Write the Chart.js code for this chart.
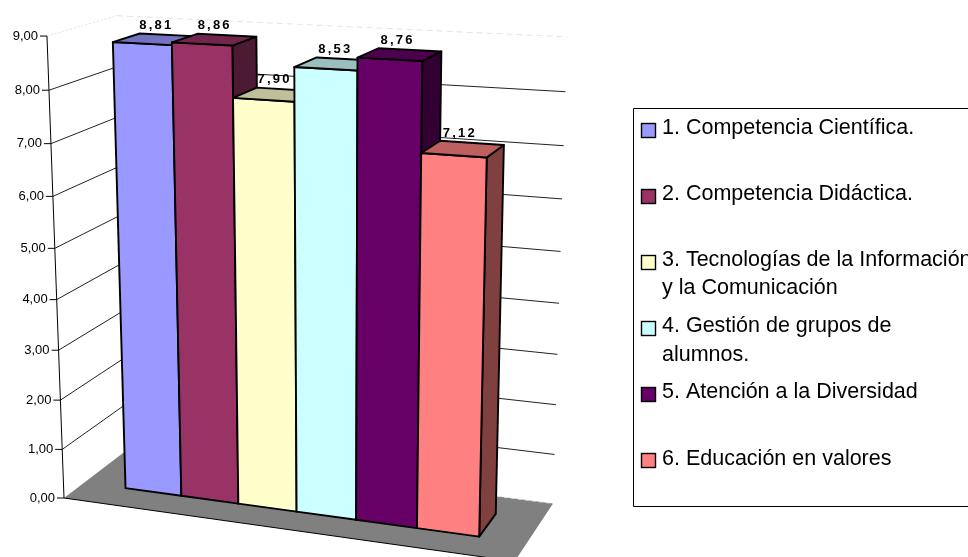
<!DOCTYPE html>
<html>
<head>
<meta charset="utf-8">
<title>Competencias</title>
<script src="https://cdn.jsdelivr.net/npm/chart.js@4"></script>
<style>
  html,body{margin:0;padding:0;background:#fff;overflow:hidden}
  canvas{display:block}
</style>
</head>
<body>
<canvas id="chart_3d" width="968" height="557"></canvas>
<script>
const categories = [
  ['1. Competencia Científica.'],
  ['2. Competencia Didáctica.'],
  ['3. Tecnologías de la Información', 'y la Comunicación'],
  ['4. Gestión de grupos de', 'alumnos.'],
  ['5. Atención a la Diversidad'],
  ['6. Educación en valores']
]
const values = [8.81, 8.86, 7.90, 8.53, 8.76, 7.12]
const valueLabels = ['8,81', '8,86', '7,90', '8,53', '8,76', '7,12']
const tickLabels = ['0,00', '1,00', '2,00', '3,00', '4,00', '5,00', '6,00', '7,00', '8,00', '9,00']

// front / top / side colours of each bar
const frontColors = ['#9999ff', '#993366', '#ffffcc', '#ccffff', '#660066', '#ff8080']
const topColors = ['#7373bf', '#73264d', '#bfbf99', '#99bfbf', '#4d004d', '#bf6060']
const sideColors = ['#4d4d80', '#4d1a33', '#808066', '#668080', '#330033', '#804040']

// legend layout : top of marker and text baselines of every entry
const legendMarkerY = [123, 189, 255, 321, 387, 453]
const legendTextY = [[134], [200], [266, 294], [332, 361], [398], [465]]

// camera of the Excel style 3D box. u: along categories, d: depth, h: height (all 0..1)
function project(u, d, h){
  const w = 1 - 0.08 * u + 0.07 * d - 0.0592 * h
  return {
    x: (409.5 * u + 74 * d + 64 - 19.8 * h) / w,
    y: (18.5 * u - 18 * d + 498 - 464.1 * h) / w
  }
}

function poly(ctx, pts, fill, stroke, lineWidth){
  ctx.beginPath()
  pts.forEach((p, i) => i ? ctx.lineTo(p.x, p.y) : ctx.moveTo(p.x, p.y))
  ctx.closePath()
  if(fill){
    ctx.fillStyle = fill
    ctx.fill()
  }
  if(stroke){
    ctx.strokeStyle = stroke
    ctx.lineWidth = lineWidth
    ctx.stroke()
  }
}

function line(ctx, a, b, color, lineWidth, dash){
  ctx.save()
  ctx.beginPath()
  ctx.setLineDash(dash || [])
  ctx.moveTo(a.x, a.y)
  ctx.lineTo(b.x, b.y)
  ctx.strokeStyle = color
  ctx.lineWidth = lineWidth
  ctx.stroke()
  ctx.restore()
}

// the box behind the bars, drawn from the y scale
const boxPlugin = {
  id: 'box3d',
  beforeDatasetsDraw(chart){
    const ctx = chart.ctx
    const y = chart.scales.y
    poly(ctx, [project(0, 0, 0), project(1, 0, 0), project(1, 1, 0), project(0, 1, 0)], '#808080')
    line(ctx, project(0, 0, 0), project(1, 0, 0), '#000', 1)
    line(ctx, project(0, 1, 0), project(1, 1, 0), '#e4e4e4', 1, [4, 3])
    y.ticks.forEach((tick, i) => {
      const h = (y.bottom - y.getPixelForValue(tick.value)) / y.height
      const a = project(0, 0, h)
      const b = project(0, 1, h)
      const c = project(1, 1, h)
      if(i > 0 && i < y.ticks.length - 1){
        line(ctx, a, b, '#222', 1)
        line(ctx, b, c, '#222', 1)
      }
      if(i === y.ticks.length - 1){
        line(ctx, a, b, '#e4e4e4', 1, [2, 2])
        line(ctx, b, c, '#e4e4e4', 1, [6, 4])
      }
      line(ctx, {x: a.x - 7, y: a.y}, a, '#000', 1)
      ctx.font = '13px "Liberation Sans"'
      ctx.fillStyle = '#000'
      ctx.textAlign = 'right'
      ctx.textBaseline = 'middle'
      ctx.fillText(tickLabels[i], a.x - 9, a.y)
    })
    line(ctx, project(0, 0, 0), project(0, 0, 1), '#000', 1)
  }
}

// bars as prisms: positions come from the bar elements laid out by the scales
const FLOOR_GAP = 0.1
const BAR_D0 = 0.3
const BAR_D1 = 0.7
const prismPlugin = {
  id: 'prism3d',
  beforeDatasetDraw(chart, args){
    const ctx = chart.ctx
    const area = chart.chartArea
    const y = chart.scales.y
    const toU = px => FLOOR_GAP + (1 - 2 * FLOOR_GAP) * (px - area.left) / area.width
    const stroke = 1.9
    ctx.save()
    ctx.lineJoin = 'round'
    args.meta.data.forEach((bar, i) => {
      const u0 = toU(bar.x - bar.width / 2)
      const u1 = toU(bar.x + bar.width / 2)
      const h = (y.bottom - bar.y) / y.height
      // right side
      poly(ctx, [project(u1, BAR_D0, 0), project(u1, BAR_D1, 0), project(u1, BAR_D1, h), project(u1, BAR_D0, h)], sideColors[i], '#000', stroke)
      // front
      poly(ctx, [project(u0, BAR_D0, 0), project(u1, BAR_D0, 0), project(u1, BAR_D0, h), project(u0, BAR_D0, h)], frontColors[i], '#000', stroke)
      // top
      poly(ctx, [project(u0, BAR_D0, h), project(u1, BAR_D0, h), project(u1, BAR_D1, h), project(u0, BAR_D1, h)], topColors[i], '#000', stroke)
    })
    // value labels over everything
    args.meta.data.forEach((bar, i) => {
      const h = (y.bottom - bar.y) / y.height
      const p = project(toU(bar.x), BAR_D1, h)
      ctx.font = 'bold 13px "Liberation Sans"'
      ctx.letterSpacing = '2.2px'
      ctx.fillStyle = '#000'
      ctx.textAlign = 'center'
      ctx.textBaseline = 'alphabetic'
      ctx.fillText(valueLabels[i], p.x - 12, p.y - 6)
    })
    ctx.restore()
    return false
  }
}

const legendPlugin = {
  id: 'boxLegend',
  afterDraw(chart){
    const ctx = chart.ctx
    ctx.save()
    ctx.beginPath()
    ctx.moveTo(chart.width, 108.5)
    ctx.lineTo(633.5, 108.5)
    ctx.lineTo(633.5, 506.5)
    ctx.lineTo(chart.width, 506.5)
    ctx.strokeStyle = '#000'
    ctx.lineWidth = 1
    ctx.stroke()
    ctx.font = '21.5px "Liberation Sans"'
    ctx.textAlign = 'left'
    ctx.textBaseline = 'alphabetic'
    categories.forEach((rows, i) => {
      ctx.fillStyle = frontColors[i]
      ctx.fillRect(641.5, legendMarkerY[i] + 0.5, 14, 14)
      ctx.strokeStyle = '#000'
      ctx.lineWidth = 1.4
      ctx.strokeRect(641.5, legendMarkerY[i] + 0.5, 14, 14)
      ctx.fillStyle = '#000'
      rows.forEach((row, j) => ctx.fillText(row, 662, legendTextY[i][j]))
    })
    ctx.restore()
  }
}

new Chart(document.getElementById('chart_3d'), {
  type: 'bar',
  data: {
    labels: categories,
    datasets: [{
      data: values,
      backgroundColor: frontColors,
      barPercentage: 1,
      categoryPercentage: 1
    }]
  },
  options: {
    responsive: false,
    animation: false,
    plugins: {
      legend: {display: false},
      tooltip: {enabled: false}
    },
    scales: {
      x: {display: false},
      y: {display: false, min: 0, max: 9, ticks: {stepSize: 1}}
    }
  },
  plugins: [boxPlugin, prismPlugin, legendPlugin]
})
</script>
</body>
</html>
